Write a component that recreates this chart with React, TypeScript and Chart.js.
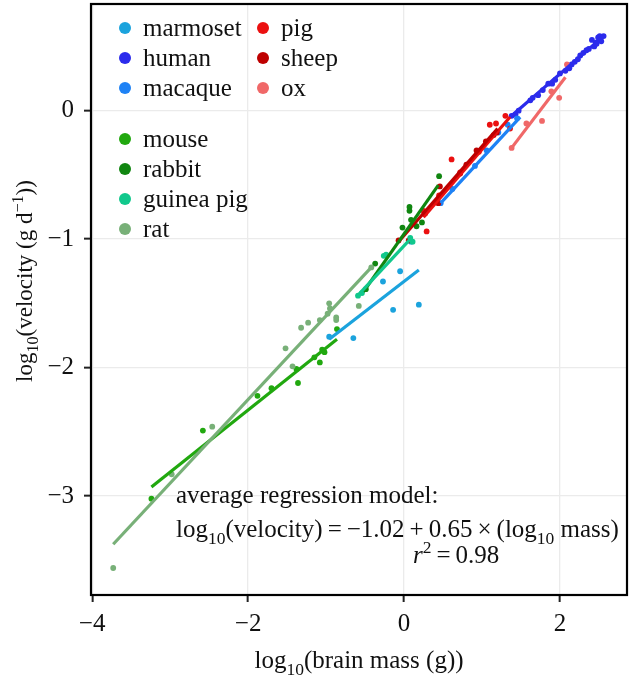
import React, { useEffect, useRef } from 'react';
import { Chart, registerables } from 'chart.js';

Chart.register(...registerables);

// ---------- data ----------
const SPECIES = ['marmoset', 'human', 'macaque', 'pig', 'sheep', 'ox', 'mouse', 'rabbit', 'guinea pig', 'rat'];
const COLORS = ['#1BA3DD', '#2B2BEC', '#1E82F5', '#EB1010', '#BE0000', '#F06868', '#21A80F', '#108610', '#11C88C', '#78B078'];

const MARMOSET_X = [-0.96, -0.65, -0.27, -0.14, -0.05, 0.19, 0.09];
const MARMOSET_Y = [-1.76, -1.77, -1.33, -1.55, -1.25, -1.51, -1.02];

const HUMAN_X = [1.38, 1.43, 1.47, 1.62, 1.65, 1.72, 1.78, 1.85, 1.90, 1.94, 2.00, 2.07, 2.12, 2.15, 2.19, 2.23, 2.26, 2.30, 2.34, 2.37, 2.41, 2.44, 2.46, 2.47, 2.49, 2.51, 2.53, 2.56];
const HUMAN_Y = [-0.04, -0.03, 0.00, 0.08, 0.10, 0.12, 0.16, 0.21, 0.21, 0.24, 0.29, 0.31, 0.33, 0.36, 0.38, 0.40, 0.43, 0.45, 0.47, 0.48, 0.55, 0.50, 0.53, 0.52, 0.57, 0.58, 0.54, 0.58];

const MACAQUE_X = [0.47, 0.62, 0.91, 1.06, 1.21, 1.33, 1.45];
const MACAQUE_Y = [-0.72, -0.61, -0.43, -0.31, -0.17, -0.11, -0.06];

const PIG_X = [0.29, 0.25, 0.45, 0.61, 0.72, 0.96, 1.10, 1.18, 1.36, 1.30];
const PIG_Y = [-0.94, -0.78, -0.66, -0.38, -0.48, -0.32, -0.11, -0.10, -0.14, -0.04];

const SHEEP_X = [-0.07, 0.06, 0.27, 0.44, 0.46, 0.72, 0.80, 0.93, 1.05, 1.15, 1.19];
const SHEEP_Y = [-1.01, -1.01, -0.80, -0.72, -0.59, -0.49, -0.42, -0.31, -0.24, -0.19, -0.17];

const OX_X = [1.38, 1.57, 1.77, 1.89, 1.99, 2.09];
const OX_Y = [-0.29, -0.10, -0.08, 0.15, 0.10, 0.36];

const MOUSE_X = [-3.24, -2.58, -1.88, -1.70, -1.38, -1.36, -1.15, -1.08, -1.05, -1.02, -0.86];
const MOUSE_Y = [-3.02, -2.49, -2.22, -2.16, -2.01, -2.12, -1.92, -1.96, -1.86, -1.88, -1.70];

const RABBIT_X = [-0.49, -0.37, -0.02, 0.07, 0.07, 0.09, 0.16, 0.23, 0.45];
const RABBIT_Y = [-1.39, -1.19, -0.91, -0.75, -0.78, -0.85, -0.90, -0.87, -0.51];

const GUINEA_X = [-0.59, -0.54, -0.26, -0.23, 0.08, 0.11];
const GUINEA_Y = [-1.44, -1.42, -1.13, -1.12, -0.99, -1.02];

const RAT_X = [-3.73, -2.98, -2.46, -1.52, -1.43, -1.32, -1.23, -1.08, -0.98, -0.96, -0.95, -0.87, -0.87, -0.58, -0.42];
const RAT_Y = [-3.56, -2.83, -2.46, -1.85, -1.99, -1.69, -1.65, -1.63, -1.58, -1.50, -1.54, -1.63, -1.61, -1.52, -1.22];

const SERIES_X = [MARMOSET_X, HUMAN_X, MACAQUE_X, PIG_X, SHEEP_X, OX_X, MOUSE_X, RABBIT_X, GUINEA_X, RAT_X];
const SERIES_Y = [MARMOSET_Y, HUMAN_Y, MACAQUE_Y, PIG_Y, SHEEP_Y, OX_Y, MOUSE_Y, RABBIT_Y, GUINEA_Y, RAT_Y];

// fitted regression line end points per species (same order as SPECIES)
const FIT_X0 = [-0.96, 1.38, 0.47, 0.25, -0.07, 1.38, -3.24, -0.52, -0.61, -3.73];
const FIT_Y0 = [-1.78, -0.04, -0.72, -0.83, -1.02, -0.29, -2.93, -1.41, -1.45, -3.375];
const FIT_X1 = [0.19, 2.56, 1.49, 1.36, 1.20, 2.07, -0.86, 0.44, 0.08, -0.42];
const FIT_Y1 = [-1.24, 0.58, -0.05, -0.05, -0.14, 0.26, -1.78, -0.58, -1.00, -1.22];

const X_TICKS = [-4, -2, 0, 2];
const Y_TICKS = [-3, -2, -1, 0];
const X_RANGE = [-4.015, 2.86];
const Y_RANGE = [-3.77, 0.83];

const MODEL_INTERCEPT = '−1.02';
const MODEL_SLOPE = '0.65';
const MODEL_R2 = '0.98';

// ---------- drawing helpers ----------
const FONT = '"Liberation Serif", "Times New Roman", serif';
const FS = 25;

type Part = { t: string; sub?: boolean; sup?: boolean; it?: boolean };

function partFont(p: Part, size: number) {
  const s = p.sub || p.sup ? size * 0.7 : size;
  return `${p.it ? 'italic ' : ''}${s}px ${FONT}`;
}

function drawRich(ctx: CanvasRenderingContext2D, parts: Part[], x: number, y: number, size: number, align: 'left' | 'center') {
  let total = 0;
  for (const p of parts) {
    ctx.font = partFont(p, size);
    total += ctx.measureText(p.t).width;
  }
  let cx = align === 'center' ? x - total / 2 : x;
  ctx.textAlign = 'left';
  ctx.textBaseline = 'alphabetic';
  for (const p of parts) {
    ctx.font = partFont(p, size);
    const off = p.sub ? size * 0.28 : p.sup ? -size * 0.4 : 0;
    ctx.fillText(p.t, cx, y + off);
    cx += ctx.measureText(p.t).width;
  }
}

const fmt = (v: number) => (v < 0 ? '−' + Math.abs(v) : String(v));

const decorPlugin = {
  id: 'decor',
  afterDatasetsDraw(chart: any) {
    const ctx: CanvasRenderingContext2D = chart.ctx;
    const a = chart.chartArea;
    ctx.save();
    // panel border
    ctx.strokeStyle = '#000';
    ctx.lineWidth = 2.2;
    ctx.strokeRect(a.left, a.top, a.right - a.left, a.bottom - a.top);

    ctx.fillStyle = '#111';
    // axis titles
    drawRich(ctx, [{ t: 'log' }, { t: '10', sub: true }, { t: '(brain mass (g))' }], (a.left + a.right) / 2, 668, FS, 'center');
    ctx.save();
    ctx.translate(32, 281);
    ctx.rotate(-Math.PI / 2);
    drawRich(ctx, [{ t: 'log' }, { t: '10', sub: true }, { t: '(velocity (g d' }, { t: '−1', sup: true }, { t: '))' }], 0, 0, 23, 'center');
    ctx.restore();

    // annotation
    drawRich(ctx, [{ t: 'average regression model:' }], 176, 503, FS, 'left');
    drawRich(ctx, [
      { t: 'log' }, { t: '10', sub: true },
      { t: `(velocity)\u2009=\u2009${MODEL_INTERCEPT}\u2009+\u2009${MODEL_SLOPE}\u2009×\u2009(log` },
      { t: '10', sub: true }, { t: ' mass)' },
    ], 176, 537, FS, 'left');
    drawRich(ctx, [{ t: 'r', it: true }, { t: '2', sup: true }, { t: `\u2009=\u2009${MODEL_R2}` }], 413, 563, FS, 'left');

    // legend
    ctx.font = `${FS}px ${FONT}`;
    ctx.textBaseline = 'middle';
    ctx.textAlign = 'left';
    SPECIES.forEach((name, i) => {
      let x: number, y: number;
      if (i < 6) {
        x = 125 + Math.floor(i / 3) * 138;
        y = 28 + (i % 3) * 30;
      } else {
        x = 125;
        y = 139 + (i - 6) * 30;
      }
      ctx.fillStyle = COLORS[i];
      ctx.beginPath();
      ctx.arc(x, y, 6, 0, Math.PI * 2);
      ctx.fill();
      ctx.fillStyle = '#111';
      ctx.fillText(name, x + 18, y + 1);
    });
    ctx.restore();
  },
};

export default function App() {
  const ref = useRef<HTMLCanvasElement>(null);
  useEffect(() => {
    if (!ref.current) return;
    const datasets: any[] = [];
    SPECIES.forEach((name, i) => {
      datasets.push({
        type: 'scatter',
        label: name,
        data: SERIES_X[i].map((x, k) => ({ x, y: SERIES_Y[i][k] })),
        backgroundColor: COLORS[i],
        borderWidth: 0,
        pointRadius: 2.9,
        order: 30 - i,
      });
    });
    SPECIES.forEach((name, i) => {
      datasets.push({
        type: 'line',
        label: name + ' fit',
        data: [{ x: FIT_X0[i], y: FIT_Y0[i] }, { x: FIT_X1[i], y: FIT_Y1[i] }],
        borderColor: COLORS[i],
        borderWidth: 3.2,
        pointRadius: 0,
        fill: false,
        order: 10 - i,
      });
    });
    const tickFont = { family: FONT, size: FS };
    const chart = new Chart(ref.current, {
      type: 'scatter',
      data: { datasets },
      plugins: [decorPlugin],
      options: {
        animation: false,
        responsive: false,
        devicePixelRatio: 1,
        layout: { padding: { top: 3, right: 2, left: 0, bottom: 0 } },
        plugins: { legend: { display: false }, tooltip: { enabled: false } },
        scales: {
          x: {
            type: 'linear',
            min: X_RANGE[0],
            max: X_RANGE[1],
            afterBuildTicks: (s: any) => { s.ticks = X_TICKS.map((v) => ({ value: v })); },
            afterFit: (s: any) => { s.height = 85; s.paddingLeft = 0; s.paddingRight = 0; s.paddingTop = 0; s.paddingBottom = 0; },
            ticks: { font: tickFont, color: '#111', padding: 7, callback: (v: any) => fmt(Number(v)), maxRotation: 0, autoSkip: false },
            grid: { color: '#EBEBEB', lineWidth: 1.3, tickColor: '#222', tickLength: 7, tickWidth: 2 },
            border: { display: false },
          },
          y: {
            type: 'linear',
            min: Y_RANGE[0],
            max: Y_RANGE[1],
            afterBuildTicks: (s: any) => { s.ticks = Y_TICKS.map((v) => ({ value: v })); },
            afterFit: (s: any) => { s.width = 91; s.paddingLeft = 0; s.paddingRight = 0; s.paddingTop = 0; s.paddingBottom = 0; },
            ticks: { font: tickFont, color: '#111', padding: 10, callback: (v: any) => fmt(Number(v)), autoSkip: false },
            grid: { color: '#EBEBEB', lineWidth: 1.3, tickColor: '#222', tickLength: 7, tickWidth: 2 },
            border: { display: false },
          },
        },
      } as any,
    });
    return () => chart.destroy();
  }, []);
  return (
    <div style={{ position: 'absolute', left: 0, top: 0, width: 631, height: 680 }}>
      <canvas ref={ref} width={631} height={680} />
    </div>
  );
}
